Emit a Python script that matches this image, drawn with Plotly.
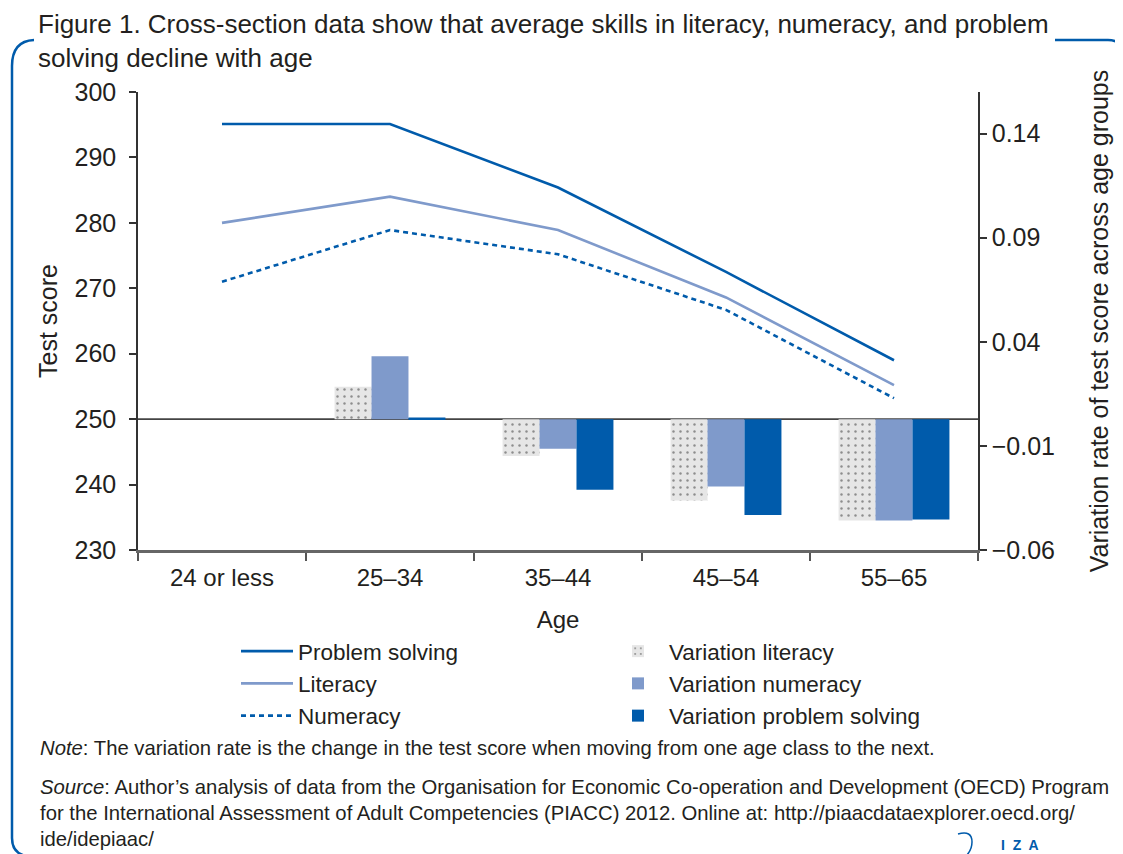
import plotly.graph_objects as go

# ---------------- data ----------------
ages = ["24 or less", "25–34", "35–44", "45–54", "55–65"]
problem_solving = [295.1, 295.1, 285.4, 272.5, 259.0]
literacy = [280.0, 284.0, 278.9, 268.6, 255.2]
numeracy = [271.0, 278.9, 275.2, 266.7, 253.2]

var_literacy = [None, 0.0155, -0.0177, -0.0391, -0.0487]
var_numeracy = [None, 0.0302, -0.0142, -0.0324, -0.0487]
var_problem_solving = [None, 0.0008, -0.0339, -0.0460, -0.0482]

score_range = [230, 300]
rate_range = [-0.06, 0.16]
rate_ticks = [-0.06, -0.01, 0.04, 0.09, 0.14]
reference_score = 250  # bars hang from this line

# ---------------- style ----------------
DARK_BLUE = "#005bab"
LIGHT_BLUE = "#7f9acb"
TEXT = "#231f20"
FONT = "Liberation Sans, Arial, sans-serif"

PAGE_OFFSET = 8           # default body margin of the html page
W, H = 1123 - PAGE_OFFSET, 854 - PAGE_OFFSET
# plot area in page pixels
L, R, T, B = 138, 978, 92, 550

# bar base expressed on the right axis (value sitting at the 250 line)
bar_base = rate_range[0] + (reference_score - score_range[0]) / (score_range[1] - score_range[0]) * (rate_range[1] - rate_range[0])

fig = go.Figure()

fig.add_trace(go.Scatter(x=ages, y=problem_solving, name="Problem solving", mode="lines",
                         line=dict(color=DARK_BLUE, width=2.6), legend="legend"))
fig.add_trace(go.Scatter(x=ages, y=literacy, name="Literacy", mode="lines",
                         line=dict(color=LIGHT_BLUE, width=2.6), legend="legend"))
fig.add_trace(go.Scatter(x=ages, y=numeracy, name="Numeracy", mode="lines",
                         line=dict(color=DARK_BLUE, width=2.6, dash="5px,4px"), legend="legend"))

fig.add_trace(go.Bar(x=ages, y=var_literacy, base=bar_base, name="Variation literacy", yaxis="y2",
                     marker=dict(color="#e6e6e6",
                                 pattern=dict(shape=".", fgcolor="#333333", bgcolor="#e6e6e6",
                                              size=7, solidity=0.1),
                                 line=dict(width=0)),
                     legend="legend2"))
fig.add_trace(go.Bar(x=ages, y=var_numeracy, base=bar_base, name="Variation numeracy", yaxis="y2",
                     marker=dict(color=LIGHT_BLUE, line=dict(width=0)), legend="legend2"))
fig.add_trace(go.Bar(x=ages, y=var_problem_solving, base=bar_base, name="Variation problem solving", yaxis="y2",
                     marker=dict(color=DARK_BLUE, line=dict(width=0)), legend="legend2"))


def px2paper(x, y):
    return (x - L) / (R - L), (B - y) / (B - T)


def path(points_cmds):
    out = []
    for cmd, pts in points_cmds:
        coords = []
        for (x, y) in pts:
            px_, py_ = px2paper(x, y)
            coords.append(f"{px_:.5f},{py_:.5f}")
        out.append(cmd + " " + " ".join(coords))
    return " ".join(out)


frame_left = path([("M", [(34, 40)]), ("Q", [(12, 41), (12, 66)]), ("L", [(12, 838)]),
                   ("Q", [(12, 853), (26, 856)])])
frame_right = path([("M", [(1055, 40)]), ("L", [(1108, 40)]), ("Q", [(1121, 40), (1125, 52)])])
iza_curve = path([("M", [(958, 834)]), ("Q", [(972, 830), (972, 842)]), ("Q", [(972, 850), (966, 856)])])

shapes = [
    dict(type="line", xref="paper", yref="y", x0=0, x1=1, y0=reference_score, y1=reference_score,
         line=dict(color="#444444", width=1.8), layer="below"),
    dict(type="path", xref="paper", yref="paper", path=frame_left, line=dict(color=DARK_BLUE, width=2.5)),
    dict(type="path", xref="paper", yref="paper", path=frame_right, line=dict(color=DARK_BLUE, width=2.5)),
    dict(type="path", xref="paper", yref="paper", path=iza_curve, line=dict(color=DARK_BLUE, width=1.5)),
]

NOTE_SIZE = 20.3
notes = [
    ("<i>Note</i>: The variation rate is the change in the test score when moving from one age class to the next.", 748),
    ("<i>Source</i>: Author’s analysis of data from the Organisation for Economic Co-operation and Development (OECD) Program", 787),
    ("for the International Assessment of Adult Competencies (PIACC) 2012. Online at: http://piaacdataexplorer.oecd.org/", 813),
    ("ide/idepiaac/", 839),
]
annotations = [
    dict(text=t, xref="paper", yref="paper", x=px2paper(38, 0)[0], y=px2paper(0, yy)[1],
         xanchor="left", yanchor="middle", showarrow=False, align="left",
         font=dict(family=FONT, size=NOTE_SIZE, color=TEXT))
    for t, yy in notes
]
annotations.append(
    dict(text="<b>I  Z  A</b>", xref="paper", yref="paper", x=px2paper(999, 0)[0], y=px2paper(0, 845)[1],
         xanchor="left", yanchor="middle", showarrow=False,
         font=dict(family=FONT, size=14, color=DARK_BLUE)))

TICK_SIZE = 25
fig.update_layout(
    width=W, height=H,
    margin=dict(l=L - PAGE_OFFSET, r=W - (R - PAGE_OFFSET), t=T - PAGE_OFFSET, b=H - (B - PAGE_OFFSET)),
    paper_bgcolor="white", plot_bgcolor="white",
    font=dict(family=FONT, color=TEXT, size=22),
    title=dict(text="Figure 1. Cross-section data show that average skills in literacy, numeracy, and problem<br>solving decline with age",
               xref="container", yref="container", x=(38 - PAGE_OFFSET) / W, xanchor="left",
               y=1 - 25 / H, yanchor="top",
               font=dict(family=FONT, size=26, color=TEXT)),
    barmode="group", bargap=0.34, bargroupgap=0,
    xaxis=dict(type="category", showline=True, linecolor="#666666", linewidth=3,
               ticks="outside", tickson="boundaries", ticklen=8, tickcolor="#555555", tickwidth=1.5,
               ticklabelstandoff=4,
               showgrid=False, zeroline=False, tickfont=dict(size=24),
               title=dict(text="Age", font=dict(size=24), standoff=22)),
    yaxis=dict(range=score_range, dtick=10, showline=True, linecolor="#333333", linewidth=1.5,
               ticks="outside", ticklen=7, tickcolor="#333333", tickwidth=1.5, ticklabelstandoff=8,
               showgrid=False, zeroline=False, tickfont=dict(size=TICK_SIZE),
               title=dict(text="Test score", font=dict(size=25), standoff=10)),
    yaxis2=dict(range=rate_range, overlaying="y", side="right", tickvals=rate_ticks, tickformat=".2f",
                showline=True, linecolor="#333333", linewidth=1.5,
                ticks="outside", ticklen=7, tickcolor="#333333", tickwidth=1.5,
                showgrid=False, zeroline=False, tickfont=dict(size=TICK_SIZE),
                title=dict(text="Variation rate of test score across age groups", font=dict(size=25), standoff=36)),
    legend=dict(x=px2paper(236, 0)[0], y=px2paper(0, 630)[1], xanchor="left", yanchor="top",
                bgcolor="rgba(0,0,0,0)", font=dict(size=22.5, color=TEXT), itemwidth=52,
                tracegroupgap=0, traceorder="normal"),
    legend2=dict(x=px2paper(607, 0)[0], y=px2paper(0, 630)[1], xanchor="left", yanchor="top",
                 bgcolor="rgba(0,0,0,0)", font=dict(size=22.5, color=TEXT), itemwidth=52,
                 tracegroupgap=0, traceorder="normal"),
    shapes=shapes,
    annotations=annotations,
)

fig.write_html("out.html")
